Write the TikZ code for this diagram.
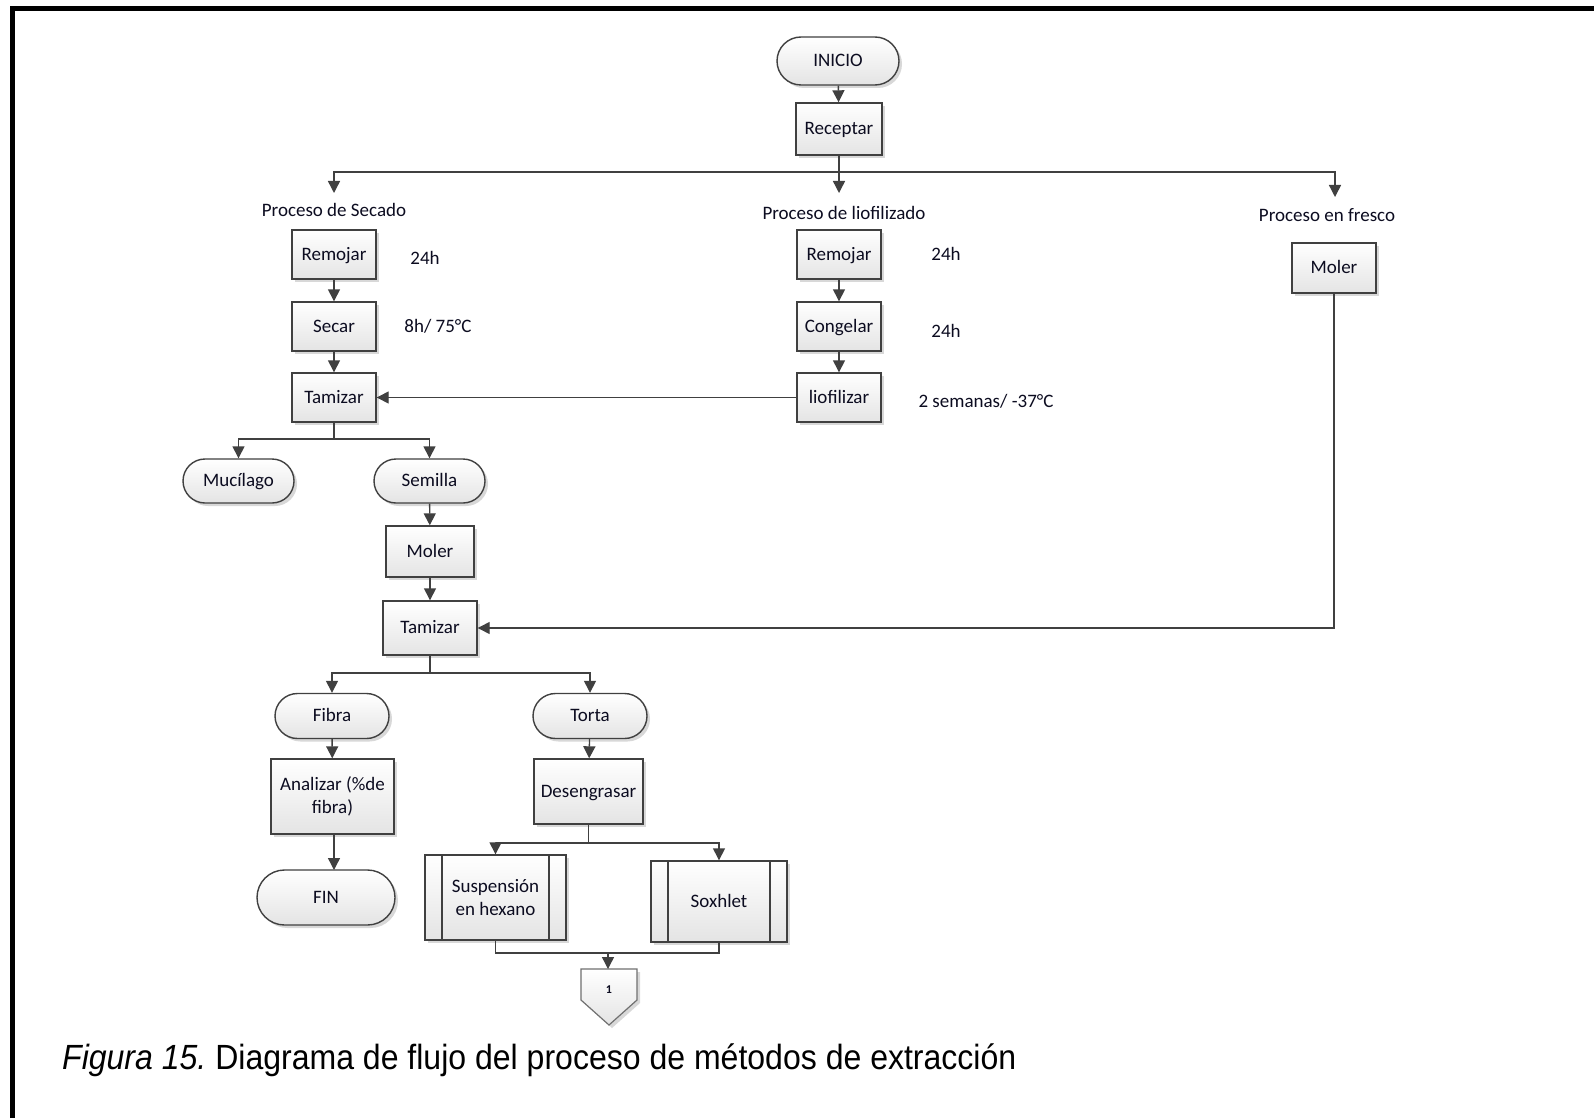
\documentclass[tikz,border=0pt]{standalone}
\usepackage{fontspec}
\setmainfont{Carlito}
\newfontfamily\capfont{Liberation Sans}
\usetikzlibrary{arrows.meta,shapes.misc,shadows}
\definecolor{lc}{HTML}{404040}
\definecolor{txt}{HTML}{0C0C20}
\definecolor{boxbot}{HTML}{E4E4E4}
\tikzset{
  base/.style={draw=lc, line width=1.4pt, top color=white, bottom color=boxbot,
    text=txt, font=\fontsize{19}{23}\selectfont, inner sep=0pt, align=center,
    text height=15pt, text depth=4pt,
    drop shadow={shadow xshift=3pt, shadow yshift=-3pt, fill=black!30, opacity=0.5}},
  proc/.style={base, rectangle},
  term/.style={base, rounded rectangle},
  multi/.style={text height=, text depth=},
  subp/.style={proc, path picture={
    \draw[lc, line width=1.4pt] ([xshift=17pt]path picture bounding box.north west) -- ([xshift=17pt]path picture bounding box.south west);
    \draw[lc, line width=1.4pt] ([xshift=-17pt]path picture bounding box.north east) -- ([xshift=-17pt]path picture bounding box.south east);}},
  lbl/.style={text=txt, font=\fontsize{19}{23}\selectfont, inner sep=0pt},
  arr/.style={draw=lc, line width=1.4pt, -{Triangle[width=12pt,length=12pt]}},
  ln/.style={draw=lc, line width=1.4pt},
}
\begin{document}
\begin{tikzpicture}[x=1pt, y=-1pt]
\useasboundingbox (0,0) rectangle (1594,1118);
\fill[white] (0,0) rectangle (1594,1118);
% frame
\draw[line width=5pt, line join=miter] (12.5,1118) -- (12.5,8.5) -- (1594,8.5);

% top
\node[term, minimum width=122pt, minimum height=48pt] (inicio) at (838,61) {INICIO};
\node[proc, minimum width=86pt, minimum height=52pt] (recep) at (839,129) {Receptar};

\node[lbl] (lblSec) at (334,210) {Proceso de Secado};
\node[lbl] (lblLio) at (844,213) {Proceso de liofilizado};
\node[lbl] (lblFre) at (1327,215) {Proceso en fresco};
\coordinate (split0) at (839,172);
\coordinate (tSec) at (334,193);
\coordinate (tLio) at (839,193);
\coordinate (tFre) at (1335,197);

% secado column
\node[proc, minimum width=84pt, minimum height=49pt] (rem1) at (334,254.5) {Remojar};
\node[lbl] (t24a) at (425,258) {24h};
\node[proc, minimum width=84pt, minimum height=49pt] (sec) at (334,326.5) {Secar};
\node[lbl] (t8h) at (438,326) {8h/ 75°C};
\node[proc, minimum width=84pt, minimum height=49pt] (tam1) at (334,397.5) {Tamizar};

% liofilizado column
\node[proc, minimum width=84pt, minimum height=49pt] (rem2) at (839,254.5) {Remojar};
\node[lbl] (t24b) at (946,254) {24h};
\node[proc, minimum width=84pt, minimum height=49pt] (cong) at (839,326.5) {Congelar};
\node[lbl] (t24c) at (946,331) {24h};
\node[proc, minimum width=84pt, minimum height=49pt] (lio) at (839,397.5) {liofilizar};
\node[lbl] (t2s) at (986,401) {2 semanas/ -37°C};

% fresco
\node[proc, minimum width=84pt, minimum height=50pt] (mol1) at (1334,268) {Moler};

% lower
\node[term, minimum width=111pt, minimum height=44pt] (muc) at (238.5,481) {Mucílago};
\node[term, minimum width=111pt, minimum height=44pt] (sem) at (429.5,481) {Semilla};
\node[proc, minimum width=88pt, minimum height=51pt] (mol2) at (430,551.5) {Moler};
\node[proc, minimum width=94pt, minimum height=54pt] (tam2) at (430,628) {Tamizar};
\node[term, minimum width=114pt, minimum height=45pt] (fib) at (332,716) {Fibra};
\node[term, minimum width=114pt, minimum height=45pt] (tor) at (590,716) {Torta};
\node[proc, multi, minimum width=123pt, minimum height=75pt] (ana) at (332.5,796.5) {Analizar (\%de\\fibra)};
\node[term, minimum width=138pt, minimum height=55pt] (endnode) at (326,897.5) {FIN};
\node[proc, minimum width=109pt, minimum height=65pt] (des) at (588.5,791.5) {Desengrasar};
\node[subp, multi, minimum width=141pt, minimum height=85pt] (sus) at (495.5,897.5) {Suspensión\\en hexano};
\node[subp, minimum width=136pt, minimum height=81pt] (sox) at (719,901.5) {Soxhlet};

% off-page connector
\draw[draw=lc!75, line width=1.2pt, top color=white, bottom color=boxbot,
  drop shadow={shadow xshift=3pt, shadow yshift=-3pt, fill=black!30, opacity=0.5}]
  (581,969) -- (637,969) -- (637,1000) -- (609,1025) -- (581,1000) -- cycle;
\node[text=txt, font=\bfseries\fontsize{12}{14}\selectfont, inner sep=0pt] (off) at (609,990) {1};
\coordinate (offtop) at (608,969);

% connectors
\draw[arr] (inicio) -- (recep);
\draw[arr] (recep.south) -- (tLio);
\draw[arr] (split0) -| (tSec);
\draw[arr] (split0) -| (tFre);

\draw[arr] (rem1) -- (sec);
\draw[arr] (sec) -- (tam1);
\draw[arr] (lio.west) -- (tam1.east);
\draw[arr] (rem2) -- (cong);
\draw[arr] (cong) -- (lio);

\coordinate (split1) at (334,439);
\draw[ln] (tam1.south) -- (split1);
\draw[arr] (split1) -| (muc.north);
\draw[arr] (split1) -| (sem.north);
\draw[arr] (sem) -- (mol2);
\draw[arr] (mol2) -- (tam2);
\draw[arr] (mol1.south) |- (tam2.east);

\coordinate (split2) at (430,673);
\draw[ln] (tam2.south) -- (split2);
\draw[arr] (split2) -| (fib.north);
\draw[arr] (split2) -| (tor.north);
\draw[arr] (fib) -- (ana);
\draw[arr] (tor) -- (des);

\coordinate (split3) at (588.5,843);
\draw[ln] (des.south) -- (split3);
\draw[arr] (split3) -| (sus.north);
\draw[arr] (split3) -| (sox.north);

\coordinate (merge) at (608,953);
\draw[ln] (sus.south) |- (merge);
\draw[ln] (sox.south) |- (merge);
\draw[arr] (merge) -- (offtop);

% caption
\node[anchor=base west, inner sep=0pt, text=black, font=\capfont\fontsize{35}{40}\selectfont] (cap) at (62,1069)
  {\frenchspacing\scalebox{0.915}[1]{\itshape Figura 15.\upshape\ Diagrama de flujo del proceso de métodos de extracción}};

% analizar -> FIN (drawn last)
\coordinate (anaBot) at (334,834);
\coordinate (finTop) at (334,870);
\draw[arr] (anaBot) -- (finTop);
\end{tikzpicture}
\end{document}
